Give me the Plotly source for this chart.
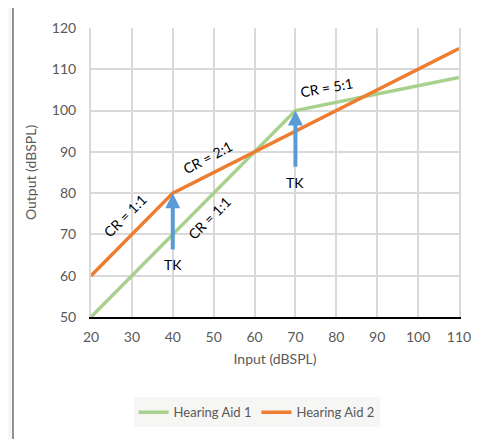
import plotly.graph_objects as go

# input / output levels (dBSPL) at the curve breakpoints
aid1_input = [20, 70, 110]
aid1_output = [50, 100, 108]
aid2_input = [20, 40, 110]
aid2_output = [60, 80, 115]

x_ticks = [20, 30, 40, 50, 60, 70, 80, 90, 100, 110]
y_ticks = [50, 60, 70, 80, 90, 100, 110, 120]

# knee-point arrows: x, tail y, head y
tk_x = [40, 70]
tk_tail = [66, 86]
tk_head = [80, 100]

FONT = "Lato, 'Open Sans', sans-serif"
GRID = "#d9d9d9"
TICK = "#595959"

fig = go.Figure()
fig.add_trace(go.Scatter(x=aid1_input, y=aid1_output, mode="lines", name="Hearing Aid 1",
                         line=dict(color="#a9d18e", width=3.5)))
fig.add_trace(go.Scatter(x=aid2_input, y=aid2_output, mode="lines", name="Hearing Aid 2",
                         line=dict(color="#ed7d31", width=3.5)))

# white chart frame on the grey page
fig.add_shape(type="rect", xref="paper", yref="paper", x0=-0.212, x1=1.3, y0=-0.6, y1=1.08,
              fillcolor="white", line=dict(color="#707070", width=1.5), layer="below")

for x, t, h in zip(tk_x, tk_tail, tk_head):
    fig.add_annotation(x=x, y=h, ax=x, ay=t, xref="x", yref="y", axref="x", ayref="y",
                       text="", showarrow=True, arrowhead=2, arrowsize=0.75,
                       arrowwidth=4, arrowcolor="#5b9bd5", standoff=0)
    fig.add_annotation(x=x, y=t - 3.4, text="TK", showarrow=False,
                       font=dict(size=14, color="black"))

labels = [
    ("CR = 1:1", 28.3, 74.7, -45),
    ("CR = 1:1", 49.1, 74.0, -45),
    ("CR = 2:1", 48.4, 88.7, -28),
    ("CR = 5:1", 77.5, 105.7, -10),
]
for txt, x, y, ang in labels:
    fig.add_annotation(x=x, y=y, text=txt, showarrow=False, textangle=ang,
                       font=dict(size=14, color="black"))

fig.update_layout(
    width=494, height=439,
    margin=dict(l=83, r=43, t=20, b=130),
    paper_bgcolor="#f6f6f4", plot_bgcolor="white",
    font=dict(family=FONT, color=TICK, size=14),
    showlegend=True,
    legend=dict(orientation="h", x=0.45, xanchor="center", y=-0.33, yanchor="middle",
                font=dict(size=13, color=TICK), itemwidth=30),
    xaxis=dict(range=[20, 110], tickvals=x_ticks, showgrid=True, gridcolor=GRID, gridwidth=2,
               showline=True, linecolor="black", linewidth=2, zeroline=False,
               ticks="", ticklabelstandoff=6, automargin=False,
               title=dict(text="Input (dBSPL)", font=dict(size=14, color=TICK), standoff=10)),
    yaxis=dict(range=[50, 120], tickvals=y_ticks, showgrid=True, gridcolor=GRID, gridwidth=2,
               showline=True, linecolor=GRID, linewidth=2, mirror=True, zeroline=False,
               ticks="", ticklabelstandoff=10, automargin=False,
               title=dict(text="Output (dBSPL)", font=dict(size=14, color=TICK), standoff=12)),
)

fig.write_html("out.html")
